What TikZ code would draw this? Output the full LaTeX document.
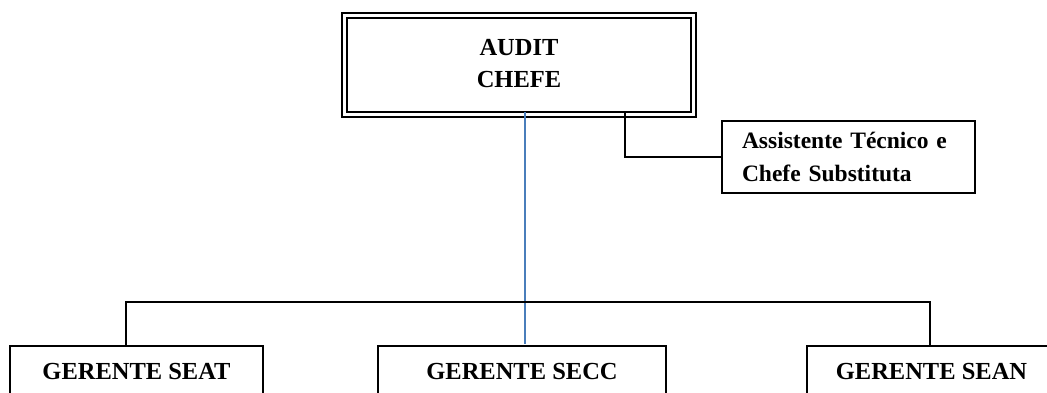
\documentclass[tikz,border=0pt]{standalone}
\usepackage{fontspec}
\setmainfont{Liberation Serif}
\usetikzlibrary{fit}
\definecolor{linkblue}{RGB}{74,126,187}
\begin{document}
\begin{tikzpicture}[x=1pt,y=-1pt,
  boxtext/.style={font=\fontsize{24.5}{32}\selectfont\bfseries},
  chiefbox/.style={draw, line width=2.6pt, outer sep=0pt, minimum width=344pt, minimum height=94pt, align=center, boxtext, inner sep=0pt, text depth=4pt},
  framebox/.style={draw, line width=1.5pt, inner sep=4.8pt, outer sep=0pt},
  asstbox/.style={draw, line width=1.9pt, outer sep=0pt, text width=213pt, align=left, inner xsep=20pt, inner ysep=0pt, minimum height=72pt, font=\fontsize{23.5}{33}\selectfont\bfseries},
  mgrbox/.style={draw, line width=1.9pt, outer sep=0pt, minimum height=50pt, inner sep=0pt, boxtext},
  conn/.style={line width=1.6pt, line join=miter},
  blueconn/.style={line width=1.6pt, draw=linkblue}]
\useasboundingbox (0,0) rectangle (1047,392);
\clip (0,0) rectangle (1047,392);
\node[chiefbox] (chief) at (519,65) {AUDIT\\CHEFE};
\node[framebox, fit=(chief)] (chiefframe) {};
\node[asstbox] (asst) at (848.5,157) {Assistente Técnico e\\Chefe Substituta};
\node[mgrbox, minimum width=253pt] (seat) at (136.5,371) {GERENTE SEAT};
\node[mgrbox, minimum width=288pt] (secc) at (522,371) {GERENTE SECC};
\node[mgrbox, minimum width=249pt] (sean) at (931.5,371) {GERENTE SEAN};
\coordinate (busL) at (125.7,302);
\coordinate (busR) at (930,302);
\draw[blueconn, shorten >=2pt] ([xshift=6pt]chief.south) -- ([xshift=6pt]chief.south |- secc.north);
\draw[conn] ([xshift=106pt]chief.south) |- (asst.west);
\draw[conn] (seat.north -| busL) -- (busL) -- (busR) -- (sean.north -| busR);
\end{tikzpicture}
\end{document}
